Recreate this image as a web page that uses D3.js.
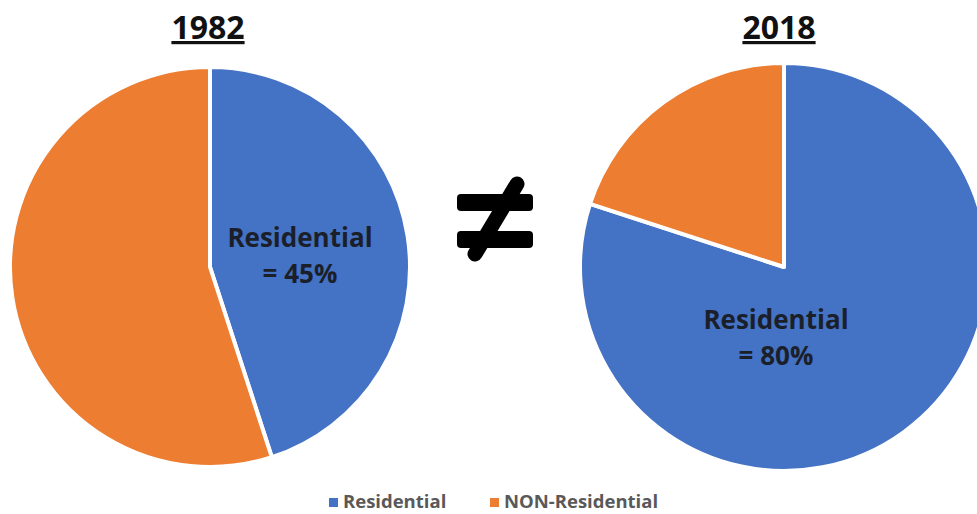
<!DOCTYPE html>
<html>
<head>
<meta charset="utf-8">
<script src="https://cdn.jsdelivr.net/npm/d3@7/dist/d3.min.js"></script>
<style>
  html, body { margin: 0; padding: 0; background: #fff; }
  svg { display: block; }
</style>
</head>
<body>
<svg id="chart" width="977" height="514"></svg>
<script>
const categories = ["Residential", "NON-Residential"];
const colors = ["#4472C4", "#ED7D31"];
const years = ["1982", "2018"];
const values1982 = [45, 55];
const values2018 = [80, 20];
const labels = ["Residential\n= 45%", "Residential\n= 80%"];

const svg = d3.select("#chart");
const font = "'Open Sans', 'DejaVu Sans', sans-serif";

const pies = [
  { year: years[0], values: values1982, cx: 210, cy: 267, r: 200, label: labels[0], lx: 300, ly: 238, tx: 208 },
  { year: years[1], values: values2018, cx: 784, cy: 267, r: 204, label: labels[1], lx: 776, ly: 320, tx: 779 }
];

const pie = d3.pie().sort(null).value(d => d);

pies.forEach(p => {
  const g = svg.append("g").attr("transform", `translate(${p.cx},${p.cy})`);
  const arc = d3.arc().innerRadius(0).outerRadius(p.r);
  g.selectAll("path")
    .data(pie(p.values))
    .join("path")
    .attr("d", arc)
    .attr("fill", (d, i) => colors[i])
    .attr("stroke", "#fff")
    .attr("stroke-width", 4)
    .attr("stroke-linejoin", "round");

  // title
  svg.append("text")
    .attr("x", p.tx)
    .attr("y", 39)
    .attr("text-anchor", "middle")
    .attr("font-family", font)
    .attr("font-weight", "bold")
    .attr("font-size", 32)
    .attr("fill", "#111")
    .attr("text-decoration", "underline")
    .text(p.year);

  // in-slice label
  const lines = p.label.split("\n");
  const lt = svg.append("text")
    .attr("text-anchor", "middle")
    .attr("font-family", font)
    .attr("font-weight", "bold")
    .attr("font-size", 26)
    .attr("fill", "#1b1f2a");
  lines.forEach((ln, i) => {
    lt.append("tspan")
      .attr("x", p.lx)
      .attr("y", p.ly + i * 36 + 9)
      .text(ln);
  });
});

// not-equal sign
const ne = svg.append("g").attr("fill", "#000").attr("stroke", "#000");
ne.append("rect").attr("x", 457).attr("y", 194).attr("width", 76).attr("height", 17).attr("rx", 4).attr("stroke", "none");
ne.append("rect").attr("x", 457).attr("y", 231).attr("width", 76).attr("height", 17).attr("rx", 4).attr("stroke", "none");
ne.append("line").attr("x1", 475).attr("y1", 254).attr("x2", 517).attr("y2", 184)
  .attr("stroke-width", 15).attr("stroke-linecap", "round");

// legend
const legend = svg.append("g");
const legendX = [329, 490];
categories.forEach((c, i) => {
  legend.append("rect")
    .attr("x", legendX[i]).attr("y", 498)
    .attr("width", 9).attr("height", 9)
    .attr("fill", colors[i]);
  legend.append("text")
    .attr("x", legendX[i] + 14).attr("y", 508)
    .attr("font-family", font)
    .attr("font-weight", "bold")
    .attr("font-size", 18.5)
    .attr("fill", "#595959")
    .text(c);
});
</script>
</body>
</html>
